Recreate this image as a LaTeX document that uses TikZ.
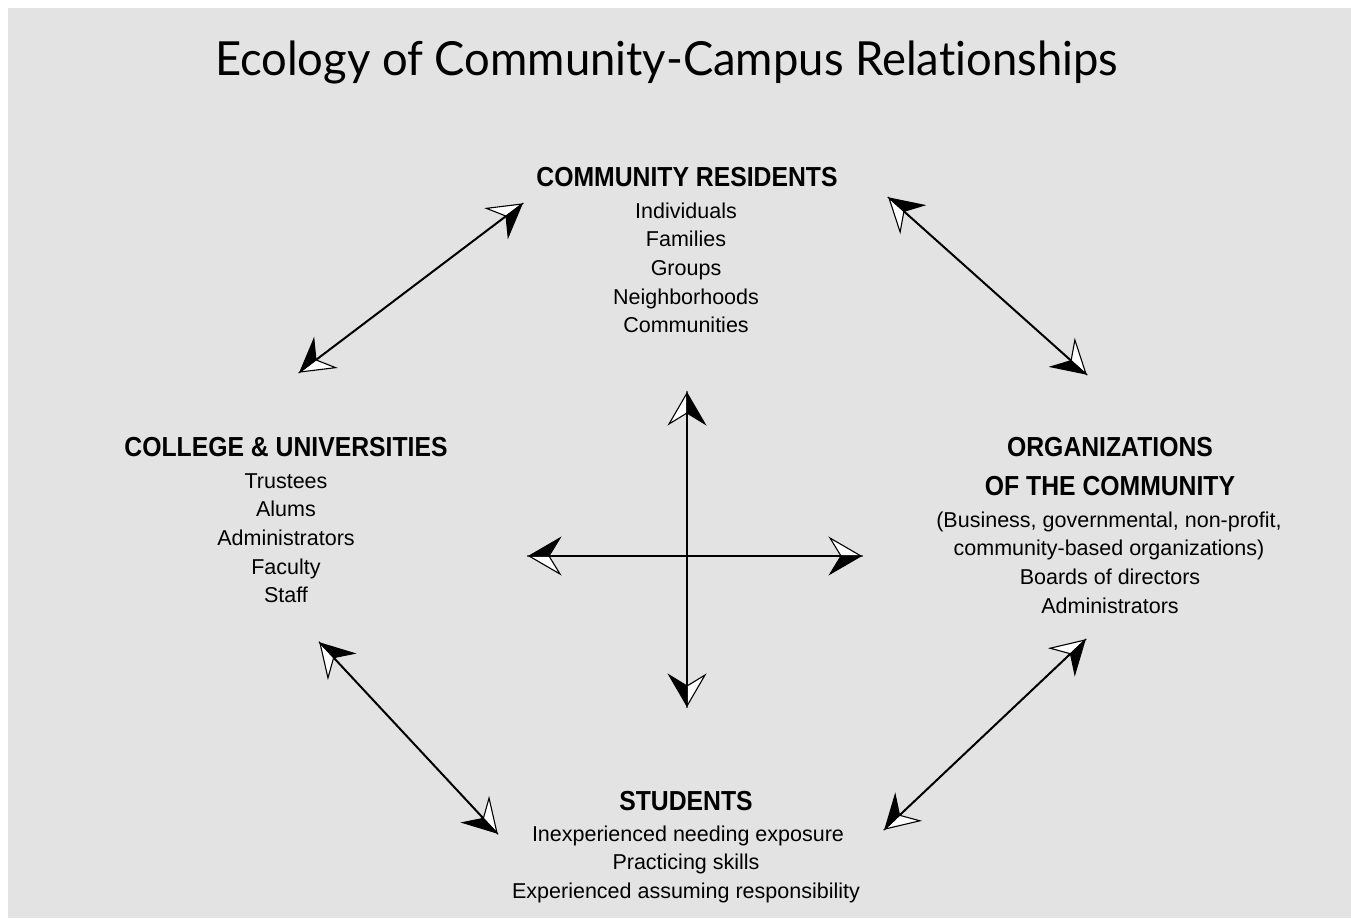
\documentclass[tikz,border=0pt]{standalone}
\usepackage{fontspec}
\setmainfont{Liberation Sans}
\newfontfamily\titlefont[FakeStretch=0.965,Ligatures=NoCommon]{Lato}
\newfontfamily\headfont[FakeStretch=0.9]{Liberation Sans}
\usetikzlibrary{arrows.meta}

\definecolor{backdrop}{RGB}{227,227,227}

% Barbed head split along its axis: white half on the left, black half on the right
\pgfdeclarearrow{
  name = SplitHead,
  setup code = {
    \pgfarrowssettipend{0pt}
    \pgfarrowssetlineend{-19pt}
    \pgfarrowssetvisualbackend{-31pt}
    \pgfarrowssetbackend{-31pt}
    \pgfarrowsupperhullpoint{-31pt}{18pt}
    \pgfarrowsupperhullpoint{0pt}{0pt}
  },
  drawing code = {
    \pgfsetlinewidth{1.1pt}
    \pgfsetdash{}{0pt}
    \pgfsetmiterjoin
    \pgfsetstrokecolor{black}
    \pgfpathmoveto{\pgfqpoint{0pt}{0pt}}
    \pgfpathlineto{\pgfqpoint{-31pt}{18pt}}
    \pgfpathlineto{\pgfqpoint{-20pt}{0pt}}
    \pgfpathclose
    \pgfsetfillcolor{white}
    \pgfusepathqfillstroke
    \pgfpathmoveto{\pgfqpoint{0pt}{0pt}}
    \pgfpathlineto{\pgfqpoint{-31pt}{-18pt}}
    \pgfpathlineto{\pgfqpoint{-20pt}{0pt}}
    \pgfpathclose
    \pgfsetfillcolor{black}
    \pgfusepathqfillstroke
  }
}

\tikzset{
  titletext/.style={anchor=base, inner sep=0pt, font=\titlefont\fontsize{47}{50}\selectfont},
  headtext/.style={anchor=base, inner sep=0pt, font=\headfont\bfseries\fontsize{27.5}{30}\selectfont},
  itemtext/.style={anchor=base, inner sep=0pt, font=\fontsize{21.5}{24}\selectfont},
  link/.style={line width=2pt, {SplitHead}-{SplitHead}}
}

\begin{document}
\begin{tikzpicture}[x=1pt, y=-1pt]
\useasboundingbox (0,0) rectangle (1351,918);
\fill[backdrop] (8,8) rectangle (1351,918);

\node[titletext] (title) at (666.5,75) {Ecology of Community-Campus Relationships};

% Community residents
\node[headtext] (resH) at (687,186) {COMMUNITY RESIDENTS};
\foreach \t [count=\i] in {Individuals,Families,Groups,Neighborhoods,Communities}
  \node[itemtext] (res\i) at ({686},{218+28.7*(\i-1)}) {\t};

% Colleges and universities
\node[headtext] (colH) at (286,456) {COLLEGE \& UNIVERSITIES};
\foreach \t [count=\i] in {Trustees,Alums,Administrators,Faculty,Staff}
  \node[itemtext] (col\i) at ({286},{488+28.7*(\i-1)}) {\t};

% Organizations of the community
\node[headtext] (orgH1) at (1110,456) {ORGANIZATIONS};
\node[headtext] (orgH2) at (1110,495) {OF THE COMMUNITY};
\node[itemtext] (org1) at (1109,527) {(Business, governmental, non-profit,};
\node[itemtext] (org2) at (1109,555.7) {community-based organizations)};
\node[itemtext] (org3) at (1110,584.4) {Boards of directors};
\node[itemtext] (org4) at (1110,613) {Administrators};

% Students
\node[headtext] (stuH) at (686,810) {STUDENTS};
\node[itemtext] (stu1) at (688,841) {Inexperienced needing exposure};
\node[itemtext] (stu2) at (686,869.7) {Practicing skills};
\node[itemtext] (stu3) at (686,898.4) {Experienced assuming responsibility};

% Arrow end points
\coordinate (nwA) at (300,372);  \coordinate (nwB) at (522,204);
\coordinate (neA) at (889,198);  \coordinate (neB) at (1086,374);
\coordinate (swA) at (320,643);  \coordinate (swB) at (497,833);
\coordinate (seA) at (1085,640); \coordinate (seB) at (885,829);
\coordinate (vT) at (687,393);   \coordinate (vB) at (687,706);
\coordinate (hL) at (529,556);   \coordinate (hR) at (861,556);

\draw[link] (nwA) -- (nwB);
\draw[link] (neA) -- (neB);
\draw[link] (swA) -- (swB);
\draw[link] (seA) -- (seB);
\draw[link] (vT) -- (vB);
\draw[link] (hL) -- (hR);
\end{tikzpicture}
\end{document}
